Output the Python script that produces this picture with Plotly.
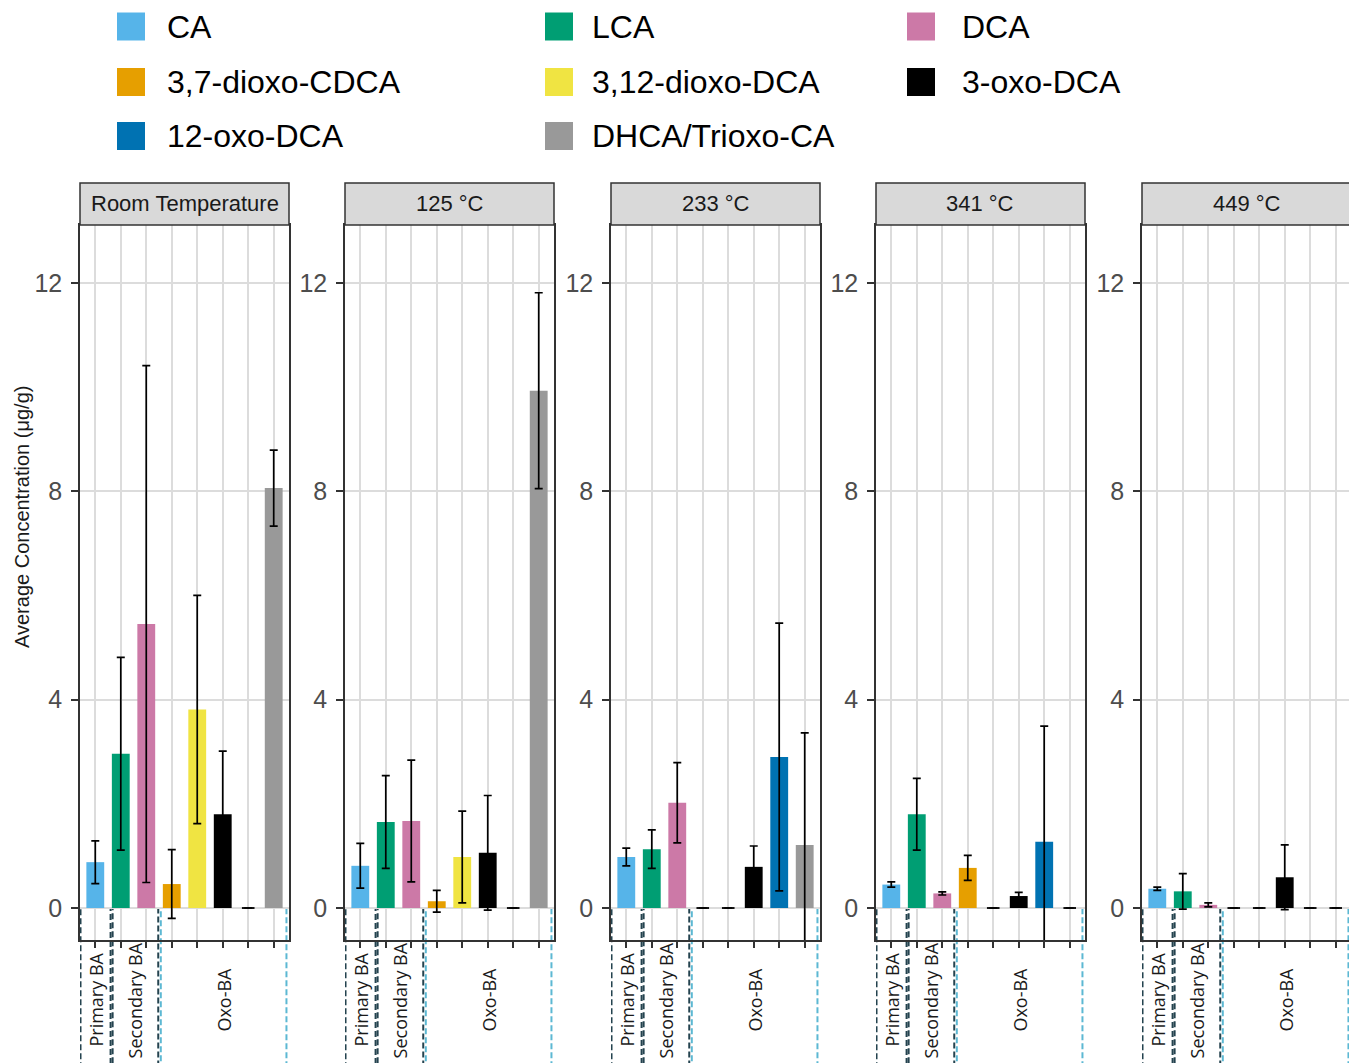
import plotly.graph_objects as go

W, H = 1357, 1063
OFF = 8  # page body margin offset
M_TOP = 225 - OFF
M_BOT = H - (940 - OFF)
PLOT_H = H - M_TOP - M_BOT

categories = ["CA", "LCA", "DCA", "3,7-dioxo-CDCA", "3,12-dioxo-DCA",
              "3-oxo-DCA", "12-oxo-DCA", "DHCA/Trioxo-CA"]
colors = ["#56B4E9", "#009E73", "#CC79A7", "#E69F00", "#F0E442",
          "#000000", "#0072B2", "#999999"]
panels = ["Room Temperature", "125 °C", "233 °C", "341 °C", "449 °C"]

mean_rt = [0.88, 2.96, 5.45, 0.46, 3.81, 1.80, 0.00, 8.06]
sd_rt = [0.41, 1.85, 4.96, 0.66, 2.19, 1.21, 0.00, 0.73]
mean_125 = [0.81, 1.65, 1.67, 0.13, 0.98, 1.06, 0.00, 9.93]
sd_125 = [0.43, 0.89, 1.17, 0.21, 0.88, 1.10, 0.00, 1.88]
mean_233 = [0.98, 1.13, 2.02, 0.00, 0.00, 0.79, 2.90, 1.21]
sd_233 = [0.17, 0.37, 0.77, 0.00, 0.00, 0.40, 2.57, 2.15]
mean_341 = [0.45, 1.80, 0.28, 0.77, 0.00, 0.23, 1.27, 0.00]
sd_341 = [0.05, 0.69, 0.03, 0.24, 0.00, 0.07, 2.22, 0.00]
mean_449 = [0.37, 0.32, 0.06, 0.00, 0.00, 0.59, 0.00, 0.00]
sd_449 = [0.03, 0.34, 0.04, 0.00, 0.00, 0.62, 0.00, 0.00]

means = [mean_rt, mean_125, mean_233, mean_341, mean_449]
sds = [sd_rt, sd_125, sd_233, sd_341, sd_449]

y_ticks = [0, 4, 8, 12]
y_title = "Average Concentration (μg/g)"

# group boxes: (label, first category, last category, left pad, right pad, colour)
groups = [
    ("Primary BA", "CA", "CA", 0.58, 0.60, "#24434f"),
    ("Secondary BA", "LCA", "DCA", 0.32, 0.47, "#24434f"),
    ("Oxo-BA", "3,7-dioxo-CDCA", "DHCA/Trioxo-CA", 0.43, 0.50, "#5cb8d3"),
]

YMIN, YMAX = -0.614, 13.11
panel_px = [(80, 289), (345, 554), (611, 820), (876, 1085), (1142, 1351)]


def px_x(x):
    return (x - OFF) / W


def px_y(y):
    return (H - M_BOT - (y - OFF)) / PLOT_H


def data_to_paper_y(v):
    return (v - YMIN) / (YMAX - YMIN)


fig = go.Figure()
shapes = []
annotations = []
GRID = "#dcdcdc"
AX = "#333333"

for i, (pname, m, s) in enumerate(zip(panels, means, sds)):
    sfx = "" if i == 0 else str(i + 1)
    fig.add_trace(go.Bar(
        x=categories, y=m, width=0.7,
        marker=dict(color=colors, line=dict(width=0)),
        error_y=dict(type="data", array=s, visible=True, color="black",
                     thickness=1.7, width=4),
        xaxis="x" + sfx, yaxis="y" + sfx, showlegend=False,
        hovertemplate="%{x}: %{y}<extra></extra>",
    ))
    # zero-height entries still show their (flat) error bar
    zx = [c for c, v, e in zip(categories, m, s) if v == 0 and e == 0]
    if zx:
        fig.add_trace(go.Scatter(
            x=zx, y=[0] * len(zx), mode="markers",
            marker=dict(symbol="line-ew-open", size=9, color="black",
                        line=dict(color="black", width=1.8)),
            xaxis="x" + sfx, yaxis="y" + sfx, showlegend=False,
            hoverinfo="skip", cliponaxis=False,
        ))
    x0, x1 = panel_px[i]
    fig.layout["xaxis" + sfx] = dict(
        domain=[px_x(x0), px_x(x1)], anchor="y" + sfx, type="category",
        categoryorder="array", categoryarray=categories,
        range=[-0.6, len(categories) - 0.4], showgrid=True, gridcolor=GRID,
        gridwidth=1.5, ticks="outside", ticklen=6, tickwidth=1.5,
        tickcolor=AX, showticklabels=False, showline=True, mirror=True,
        linecolor=AX, linewidth=1.5, zeroline=False, fixedrange=True,
    )
    fig.layout["yaxis" + sfx] = dict(
        domain=[0, 1], anchor="x" + sfx, range=[YMIN, YMAX],
        tickvals=y_ticks, ticktext=[str(t) for t in y_ticks],
        showgrid=True, gridcolor=GRID, gridwidth=1.5, zeroline=False,
        ticks="outside", ticklen=7, tickwidth=1.5, tickcolor=AX,
        ticklabelstandoff=4,
        tickfont=dict(family="Liberation Sans, Arial", size=25, color="#4d4d4d"),
        showline=True, mirror=True, linecolor=AX, linewidth=1.5,
        fixedrange=True,
    )
    # strip
    shapes.append(dict(type="rect", xref="x" + sfx + " domain", yref="paper",
                       x0=0, x1=1, y0=1, y1=px_y(183),
                       fillcolor="#d9d9d9", line=dict(color=AX, width=1.5),
                       layer="above"))
    annotations.append(dict(text=pname, xref="x" + sfx + " domain", yref="paper",
                            x=0.5, y=(1 + px_y(183)) / 2, showarrow=False,
                            xanchor="center", yanchor="middle",
                            font=dict(family="Liberation Sans, Arial", size=22,
                                      color="#1a1a1a")))
    # group boxes
    for label, first, last, lp, rp, col in groups:
        a = categories.index(first) - lp
        b = categories.index(last) + rp
        shapes.append(dict(type="rect", xref="x" + sfx, yref="paper",
                           x0=a, x1=b, y0=data_to_paper_y(0), y1=px_y(1075),
                           line=dict(color=col, width=2, dash="6px,3px"),
                           fillcolor="rgba(0,0,0,0)", layer="below"))
        annotations.append(dict(text=label, xref="x" + sfx, yref="paper",
                                x=(a + b) / 2, y=px_y(1000), textangle=-90,
                                showarrow=False, xanchor="center",
                                yanchor="middle",
                                font=dict(family="Open Sans", size=18,
                                          color="#1a1a1a")))

# legend (3 columns, row-major)
leg_cols = [(117, 165), (545, 590), (907, 960)]
leg_rows = [26.5, 82, 136]
for k, (name, col) in enumerate(zip(categories, colors)):
    r, c = divmod(k, 3)
    sx, tx = leg_cols[c]
    cy = leg_rows[r]
    shapes.append(dict(type="rect", xref="paper", yref="paper",
                       x0=px_x(sx), x1=px_x(sx + 28),
                       y0=px_y(cy + 14), y1=px_y(cy - 14),
                       fillcolor=col, line=dict(width=0)))
    annotations.append(dict(text=name, xref="paper", yref="paper",
                            x=px_x(tx), y=px_y(cy), showarrow=False,
                            xanchor="left", yanchor="middle",
                            font=dict(family="Liberation Sans, Arial", size=32,
                                      color="black")))

annotations.append(dict(text=y_title, xref="paper", yref="paper",
                        x=px_x(22), y=px_y(517), textangle=-90,
                        showarrow=False, xanchor="center", yanchor="middle",
                        font=dict(family="Liberation Sans, Arial", size=20,
                                  color="#1a1a1a")))

fig.update_layout(
    width=W, height=H,
    margin=dict(l=0, r=0, t=M_TOP, b=M_BOT, pad=0),
    paper_bgcolor="white", plot_bgcolor="white",
    shapes=shapes, annotations=annotations, showlegend=False,
)

fig.write_html("out.html")
